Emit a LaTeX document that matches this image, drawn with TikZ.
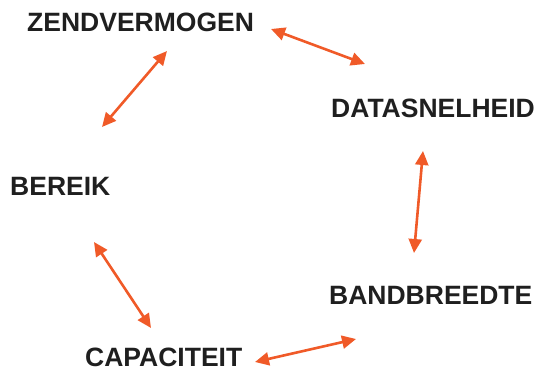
\documentclass[tikz,border=0pt]{standalone}
\usepackage{fontspec}
\setmainfont{Liberation Sans}
\usetikzlibrary{arrows.meta}
\definecolor{arroworange}{HTML}{F05A28}
\begin{document}
\begin{tikzpicture}[x=1pt,y=-1pt,
  label/.style={font=\bfseries\fontsize{26.5}{26.5}\selectfont, text=black!88, inner sep=0pt, anchor=west},
  link/.style={draw=arroworange, line width=2.6pt,
    {Triangle[length=14pt,width=13pt]}-{Triangle[length=14pt,width=13pt]}}]
  \useasboundingbox (0,0) rectangle (535,369);
  % terms
  \node[label] (zend) at (27,22) {ZENDVERMOGEN};
  \node[label] (data) at (331,108) {DATASNELHEID};
  \node[label] (bereik) at (10,186) {BEREIK};
  \node[label] (band) at (329,295) {BANDBREEDTE};
  \node[label] (cap) at (85,357.5) {CAPACITEIT};
  % arrow ends
  \coordinate (z1) at (271,29);
  \coordinate (d1) at (365,64);
  \coordinate (d2) at (423,151);
  \coordinate (b1) at (414,253);
  \coordinate (b2) at (356,339);
  \coordinate (c1) at (255,362);
  \coordinate (c2) at (151,328);
  \coordinate (r1) at (94,242);
  \coordinate (r2) at (102,127);
  \coordinate (z2) at (167,51);
  % relations
  \draw[link] (z1) -- (d1);
  \draw[link] (d2) -- (b1);
  \draw[link] (b2) -- (c1);
  \draw[link] (c2) -- (r1);
  \draw[link] (r2) -- (z2);
\end{tikzpicture}
\end{document}
